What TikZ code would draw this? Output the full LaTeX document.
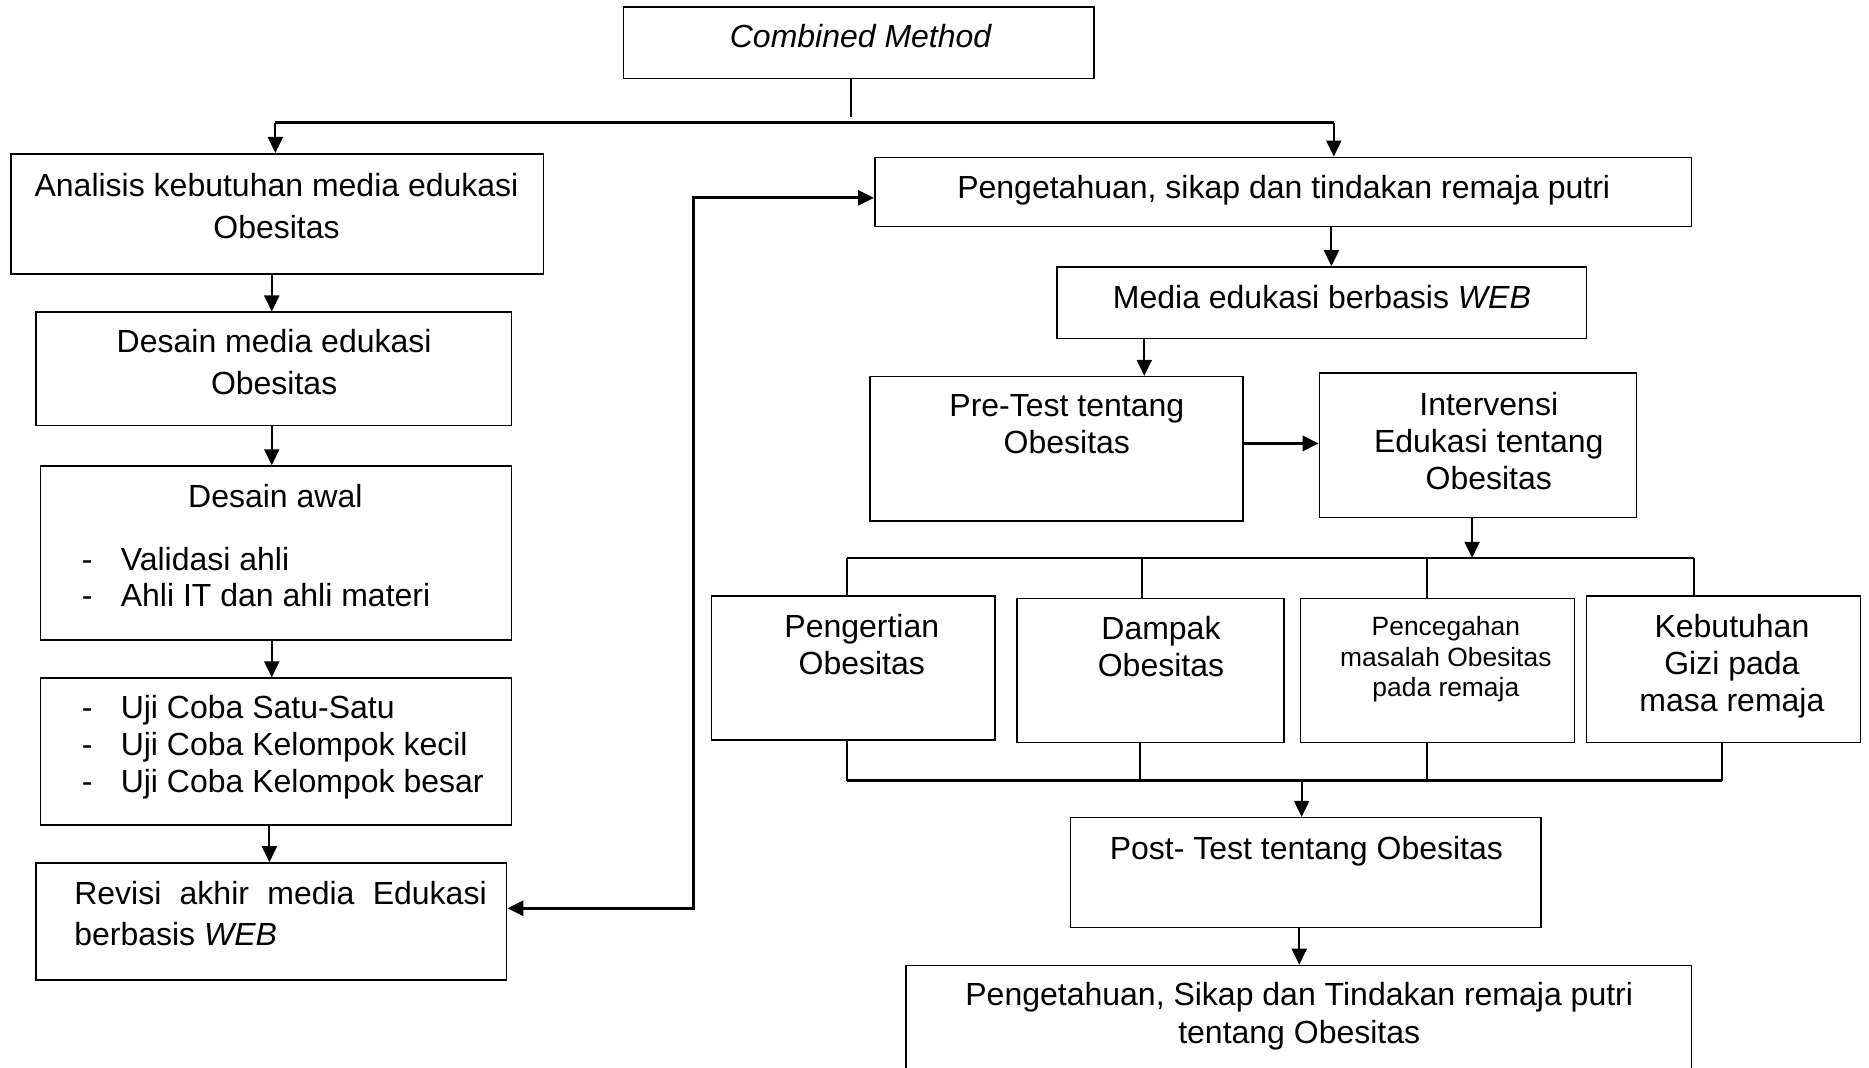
\documentclass[tikz,border=0pt]{standalone}
\usepackage{fontspec}
\setmainfont{Liberation Sans}
\usetikzlibrary{arrows.meta,fit}
\begin{document}
\begin{tikzpicture}[x=0.596pt,y=-0.596pt,
  box/.style={draw, line width=0.8pt, inner sep=0pt},
  txt/.style={inner sep=0pt, align=center, anchor=north, font=\fontsize{16}{18.5}\selectfont},
  txtw/.style={inner sep=0pt, align=center, anchor=north, font=\fontsize{16}{20.9}\selectfont},
  lst/.style={inner sep=0pt, align=left, anchor=north west, font=\fontsize{16}{18.5}\selectfont},
  txts/.style={inner sep=0pt, align=center, anchor=north, font=\fontsize{13.2}{15.2}\selectfont},
  tip/.tip={Triangle[length=8pt,width=7.5pt]},
  ln/.style={line width=1pt},
  lnb/.style={line width=1.3pt},
  arr/.style={line width=1pt, -tip},
  arrb/.style={line width=1.4pt, -tip}]
\useasboundingbox (0,0) rectangle (1568,896);
\newcommand{\dsh}{\llap{\makebox[19.5pt][l]{-}}}
% boxes
\node[box, fit={(523,6)(918,66)}] (cm) {};
\node[box, fit={(9,129)(456,230)}] (an) {};
\node[box, fit={(30,262)(429,357)}] (dm) {};
\node[box, fit={(34,391)(429,537)}] (da) {};
\node[box, fit={(34,569)(429,692)}] (uj) {};
\node[box, fit={(30,724)(425,822)}] (rv) {};
\node[box, fit={(734,132)(1419,190)}] (pg) {};
\node[box, fit={(887,224)(1331,284)}] (me) {};
\node[box, fit={(730,316)(1043,437)}] (pt) {};
\node[box, fit={(1107,313)(1373,434)}] (iv) {};
\node[box, fit={(597,500)(835,621)}] (b1) {};
\node[box, fit={(853,502)(1077,623)}] (b2) {};
\node[box, fit={(1091,502)(1321,623)}] (b3) {};
\node[box, fit={(1331,500)(1561,623)}] (b4) {};
\node[box, fit={(898,686)(1293,778)}] (po) {};
\node[box, fit={(760,810)(1419,930)}] (fi) {};
% texts
\node[txt] (tcm) at (722,20) {\itshape Combined Method};
\node[txtw] (tan) at (232,145) {Analisis kebutuhan media edukasi\\Obesitas};
\node[txtw] (tdm) at (230,276) {Desain media edukasi\\Obesitas};
\node[txt] (tda) at (231,406) {Desain awal};
\node[lst, font=\fontsize{16}{17.9}\selectfont] (tda2) at (101,459) {\dsh Validasi ahli\\\dsh Ahli IT dan ahli materi};
\node[lst] (tuj) at (101,583) {\dsh Uji Coba Satu-Satu\\\dsh Uji Coba Kelompok kecil\\\dsh Uji Coba Kelompok besar};
\node[lst, font=\fontsize{16}{20.3}\selectfont] (trv) at (62,739) {\hbox to 206.2pt{Revisi\hfill akhir\hfill media\hfill Edukasi}\\berbasis \textit{WEB}};
\node[txt] (tpg) at (1077,147) {Pengetahuan, sikap dan tindakan remaja putri};
\node[txt] (tme) at (1109,239) {Media edukasi berbasis \textit{WEB}};
\node[txt] (tpt) at (895,331) {Pre-Test tentang\\Obesitas};
\node[txt] (tiv) at (1249,329) {Intervensi\\Edukasi tentang\\Obesitas};
\node[txt] (tb1) at (723,515) {Pengertian\\Obesitas};
\node[txt] (tb2) at (974,517) {Dampak\\Obesitas};
\node[txts] (tb3) at (1213,517) {Pencegahan\\masalah Obesitas\\pada remaja};
\node[txt] (tb4) at (1453,515) {Kebutuhan\\Gizi pada\\masa remaja};
\node[txt] (tpo) at (1096,701) {Post- Test tentang Obesitas};
\node[txt, font=\fontsize{16}{19.1}\selectfont] (tfi) at (1090,824) {Pengetahuan, Sikap dan Tindakan remaja putri\\tentang Obesitas};
% top split
\coordinate (s1) at (714,98);
\draw[ln] (cm.south -| s1) -- (s1);
\coordinate (jl) at (231,103);
\coordinate (jr) at (1119,103);
\draw[lnb] (jl) -- (jr);
\draw[arr] (jl) -- (jl |- an.north);
\draw[arr] (jr) -- (jr |- pg.north);
% left column
\coordinate (cl) at (228,0);
\coordinate (cl2) at (226,0);
\draw[arr] (cl |- an.south) -- (cl |- dm.north);
\draw[arr] (cl |- dm.south) -- (cl |- da.north);
\draw[arr] (cl |- da.south) -- (cl |- uj.north);
\draw[arr] (cl2 |- uj.south) -- (cl2 |- rv.north);
% feedback
\coordinate (fb1) at (582,762);
\coordinate (fb2) at (582,166);
\draw[line width=1.4pt, tip-tip] (rv.east |- fb1) -- (fb1) -- (fb2) -- (pg.west |- fb2);
% right column
\coordinate (c2) at (1117,0);
\draw[arr] (c2 |- pg.south) -- (c2 |- me.north);
\coordinate (c3) at (960,0);
\draw[arr] (c3 |- me.south) -- (c3 |- pt.north);
\coordinate (c4) at (0,372);
\draw[arrb] (pt.east |- c4) -- (iv.west |- c4);
\coordinate (tb) at (1235,468);
\draw[arr] (tb |- iv.south) -- (tb);
\coordinate (t1) at (711,468);
\coordinate (t2) at (958,468);
\coordinate (t3) at (1197,468);
\coordinate (t4) at (1421,468);
\draw[lnb] (t1) -- (t4);
\draw[ln] (t1) -- (t1 |- b1.north);
\draw[ln] (t2) -- (t2 |- b2.north);
\draw[ln] (t3) -- (t3 |- b3.north);
\draw[ln] (t4) -- (t4 |- b4.north);
\coordinate (u1) at (711,655);
\coordinate (u2) at (956,655);
\coordinate (u3) at (1197,655);
\coordinate (u4) at (1445,655);
\draw[lnb] (u1) -- (u4);
\draw[ln] (u1 |- b1.south) -- (u1);
\draw[ln] (u2 |- b2.south) -- (u2);
\draw[ln] (u3 |- b3.south) -- (u3);
\draw[ln] (u4 |- b4.south) -- (u4);
\coordinate (bb) at (1092,655);
\draw[arr] (bb) -- (bb |- po.north);
\coordinate (c5) at (1090,0);
\draw[arr] (c5 |- po.south) -- (c5 |- fi.north);
\end{tikzpicture}
\end{document}
